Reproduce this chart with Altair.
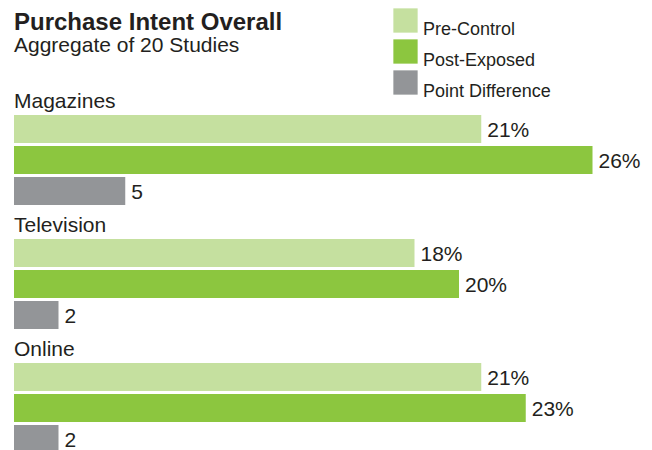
import altair as alt
import pandas as pd

categories = ["Magazines", "Television", "Online"]
series = ["Pre-Control", "Post-Exposed", "Point Difference"]
pre_control = [21, 18, 21]
post_exposed = [26, 20, 23]
point_diff = [5, 2, 2]
colors = ["#c5e09f", "#8cc63f", "#939598"]

FONT = "Liberation Sans"
TXT = "#231f20"

row_order = []
bar_rows = []
label_rows = []
for i, cat in enumerate(categories):
    row_order.append(cat)
    label_rows.append({"row": cat, "text": cat})
    vals = [pre_control[i], post_exposed[i], point_diff[i]]
    for s, v in zip(series, vals):
        key = f"{cat} | {s}"
        row_order.append(key)
        txt = f"{v}%" if s != "Point Difference" else f"{v}"
        bar_rows.append({"row": key, "series": s, "value": v, "label": txt})

bar_df = pd.DataFrame(bar_rows)
lab_df = pd.DataFrame(label_rows)

step = 31
yscale = alt.Scale(domain=row_order, range=[0, step * len(row_order)],
                   paddingInner=3 / 31, paddingOuter=1.5 / 31)
xscale = alt.Scale(domain=[0, 28], nice=False, zero=True)

y = alt.Y("row:N", sort=row_order, scale=yscale, axis=None)
x = alt.X("value:Q", scale=xscale, axis=None)

bars = alt.Chart(bar_df).mark_bar().encode(
    x=x,
    y=y,
    color=alt.Color(
        "series:N",
        scale=alt.Scale(domain=series, range=colors),
        legend=alt.Legend(
            title=None,
            orient="none",
            legendX=379,
            legendY=-74.5,
            symbolType="square",
            symbolSize=590,
            symbolStrokeWidth=0,
            symbolOpacity=1,
            labelFont=FONT,
            labelFontSize=18,
            labelColor=TXT,
            labelBaseline="top",
            labelOffset=5,
            rowPadding=-3,
            padding=0,
        ),
    ),
)

values = alt.Chart(bar_df).mark_text(
    align="left", baseline="middle", dx=6, dy=2,
    font=FONT, fontSize=21, color=TXT
).encode(x=x, y=y, text="label:N")

cats = alt.Chart(lab_df).mark_text(
    align="left", baseline="alphabetic", dy=10,
    font=FONT, fontSize=21, color=TXT
).encode(x=alt.value(0), y=y, text="text:N")

chart = alt.layer(bars, values, cats).properties(
    width=623,
    height=367.5,
    autosize=alt.AutoSizeParams(type="none"),
    padding={"left": 6, "top": 74.5, "right": 7, "bottom": 0},
    title=alt.TitleParams(
        "Purchase Intent Overall",
        subtitle="Aggregate of 20 Studies",
        anchor="start",
        frame="group",
        font=FONT,
        fontSize=24,
        fontWeight="bold",
        color=TXT,
        subtitleFont=FONT,
        subtitleFontSize=21,
        subtitleColor=TXT,
        offset=0,
        dy=48,
        subtitlePadding=0.5,
    ),
).configure_view(stroke=None)

chart.save("out.html", embed_options={"renderer": "svg", "actions": False})
